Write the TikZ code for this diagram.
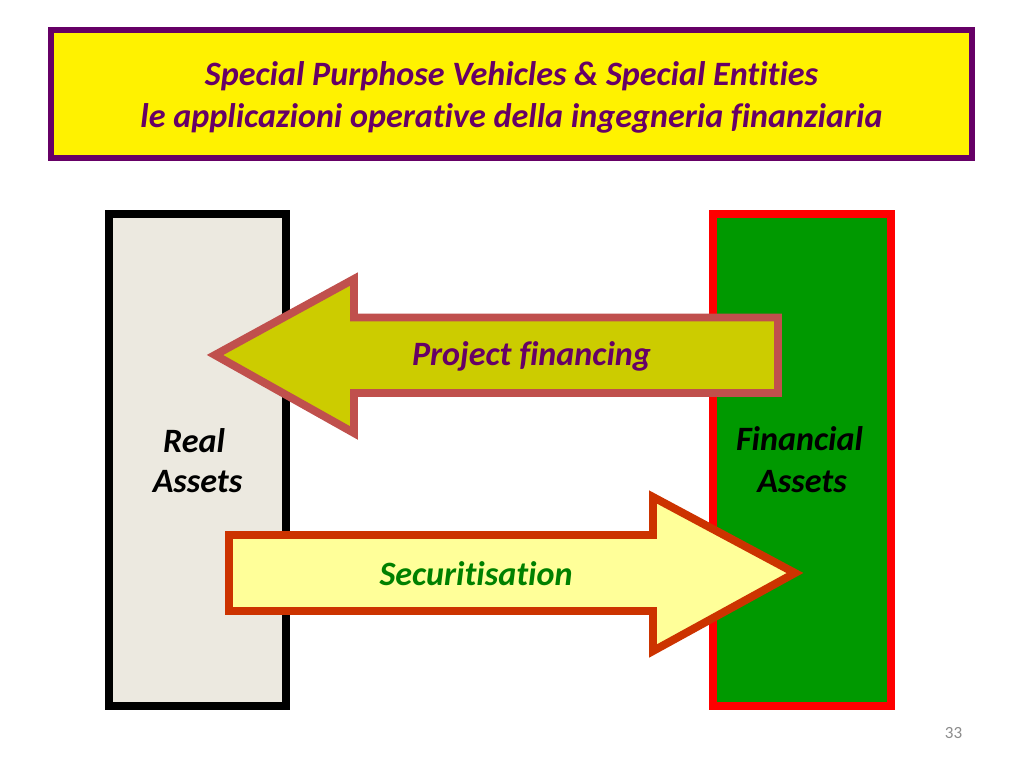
\documentclass[tikz,border=0pt]{standalone}
\usepackage{fontspec}
\setmainfont[Ligatures={NoCommon}]{Carlito}
\begin{document}
\begin{tikzpicture}[x=0.703125pt,y=-0.703125pt,
  every node/.style={inner sep=0pt,font=\fontsize{24}{29}\selectfont\bfseries\itshape},
  titlebox/.style={draw=titlepurple,fill=yellow,line width=4.3pt},
  realbox/.style={draw=black,fill=realtan,line width=5.6pt},
  finbox/.style={draw=red,fill=fingreen,line width=5.6pt},
  pfarrow/.style={draw=pfborder,fill=pffill,line width=5.6pt,miter limit=10},
  secarrow/.style={draw=secborder,fill=secfill,line width=5.6pt,miter limit=10}]
\definecolor{titlepurple}{RGB}{102,0,102}
\definecolor{realtan}{RGB}{236,233,224}
\definecolor{fingreen}{RGB}{0,153,0}
\definecolor{pfborder}{RGB}{192,80,77}
\definecolor{pffill}{RGB}{204,204,0}
\definecolor{secborder}{RGB}{204,51,0}
\definecolor{secfill}{RGB}{255,255,153}
\definecolor{sectext}{RGB}{0,128,0}
\definecolor{pagegray}{RGB}{140,140,140}
\useasboundingbox[fill=white] (0,0) rectangle (1024,768);
% title
\draw[titlebox] (51,30) rectangle (972,158);
\node[text=titlepurple,anchor=base] (t1) at (511.5,86) {Special Purphose Vehicles \& Special Entities};
\node[text=titlepurple,anchor=base] (t2) at (511.5,128) {le applicazioni operative della ingegneria finanziaria};
% boxes
\draw[realbox] (109,214) rectangle (286,706);
\draw[finbox] (713,214) rectangle (891,706);
\node[anchor=base] (real1) at (194,452) {Real};
\node[anchor=base] (real2) at (197.5,492) {Assets};
\node[anchor=base] (fin1) at (799.5,450) {Financial};
\node[anchor=base] (fin2) at (802,492) {Assets};
% project financing arrow
\draw[pfarrow] (778,317.5) -- (354,317.5) -- (354,279) -- (215,355) -- (354,433) -- (354,393) -- (778,393) -- cycle;
\node[text=titlepurple,anchor=base] (pf) at (531.5,365) {Project financing};
% securitisation arrow
\draw[secarrow] (229,535) -- (653,535) -- (653,497) -- (795,573) -- (653,651) -- (653,611) -- (229,611) -- cycle;
\node[text=sectext,anchor=base] (sec) at (476,585) {Securitisation};
% page number
\node[font=\fontsize{12}{14}\selectfont,text=pagegray,anchor=base] (pg) at (953.5,738) {33};
\end{tikzpicture}
\end{document}
